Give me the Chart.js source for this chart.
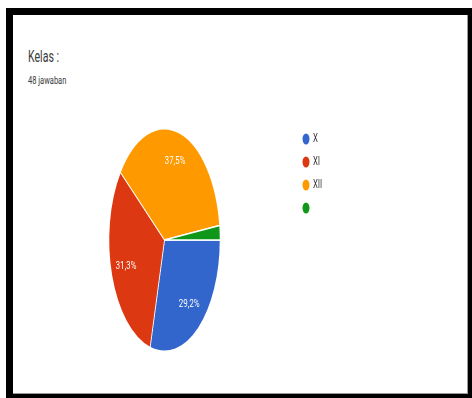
<!DOCTYPE html>
<html>
<head>
<meta charset="utf-8">
<script src="https://cdn.jsdelivr.net/npm/chart.js@4.4.1/dist/chart.umd.min.js"></script>
<style>
  html, body { margin: 0; padding: 0; background: #fff; width: 472px; height: 398px; overflow: hidden; }
  #frame { position: absolute; left: 6px; top: 8px; width: 466px; height: 390px; background: #000; }
  #inner { position: absolute; left: 13px; top: 15px; width: 454px; height: 378px; background: #fff;
           border-right: 1px solid #9a9a9a; border-bottom: 1px solid #9a9a9a; }
  .t { position: absolute; font-family: Roboto, Arial, sans-serif; white-space: nowrap; transform-origin: 0 0; line-height: 1; }
  #title { left: 28px; top: 49px; font-size: 16px; color: #3a3a3a; transform: scaleX(0.66); }
  #sub { left: 28px; top: 76px; font-size: 10px; color: #3a3a3a; transform: scaleX(0.75); }
  #wrap { position: absolute; left: 13px; top: 15px; width: 910px; height: 379px; transform: scaleX(0.5); transform-origin: 0 0; }
</style>
</head>
<body>
<div id="frame"></div>
<div id="inner"></div>
<div class="t" id="title">Kelas :</div>
<div class="t" id="sub">48 jawaban</div>
<div id="wrap"><canvas id="c" width="910" height="379"></canvas></div>
<script>
const categories = ['X', 'XI', 'XII', ''];
const responses = [14, 15, 18, 1];
const sliceColors = ['#3366cc', '#dc3912', '#ff9900', '#109618'];

const total = responses.reduce((a, b) => a + b, 0);

const sliceLabels = {
  id: 'sliceLabels',
  afterDatasetsDraw(chart) {
    const ctx = chart.ctx;
    const meta = chart.getDatasetMeta(0);
    ctx.save();
    ctx.fillStyle = '#ffffff';
    ctx.font = '11px Roboto, Arial, sans-serif';
    ctx.textAlign = 'center';
    ctx.textBaseline = 'middle';
    meta.data.forEach((arc, i) => {
      const pct = responses[i] / total * 100;
      if (pct < 5) return;
      const p = arc.getProps(['x', 'y', 'startAngle', 'endAngle', 'outerRadius'], true);
      const mid = (p.startAngle + p.endAngle) / 2;
      const r = p.outerRadius * 0.73;
      const x = p.x + Math.cos(mid) * r;
      const y = p.y + Math.sin(mid) * r;
      const txt = pct.toFixed(1).replace('.', ',') + '%';
      ctx.save();
      ctx.translate(x, y);
      ctx.scale(1.45, 1);
      ctx.fillText(txt, 0, 0);
      ctx.restore();
    });
    ctx.restore();
  }
};

const sideLegend = {
  id: 'sideLegend',
  afterDraw(chart) {
    const ctx = chart.ctx;
    ctx.save();
    ctx.font = '12px Roboto, Arial, sans-serif';
    ctx.textBaseline = 'middle';
    ctx.textAlign = 'left';
    categories.forEach((lab, i) => {
      const x = 586, y = 124 + 23 * i;
      ctx.fillStyle = sliceColors[i];
      ctx.beginPath();
      ctx.ellipse(x, y, 7, 5.5, 0, 0, Math.PI * 2);
      ctx.fill();
      ctx.fillStyle = '#333333';
      ctx.save();
      ctx.translate(600, y);
      ctx.scale(1.3, 1);
      ctx.fillText(lab, 0, 0);
      ctx.restore();
    });
    ctx.restore();
  }
};

new Chart(document.getElementById('c'), {
  type: 'pie',
  data: {
    labels: categories,
    datasets: [{
      data: responses,
      backgroundColor: sliceColors,
      borderColor: '#ffffff',
      borderWidth: 1.5
    }]
  },
  options: {
    responsive: false,
    animation: false,
    devicePixelRatio: 1,
    rotation: 90,
    layout: { padding: { left: 191, right: 495, top: 113, bottom: 42 } },
    plugins: {
      legend: { display: false },
      tooltip: { enabled: false },
      title: { display: false }
    }
  },
  plugins: [sliceLabels, sideLegend]
});
</script>
</body>
</html>
